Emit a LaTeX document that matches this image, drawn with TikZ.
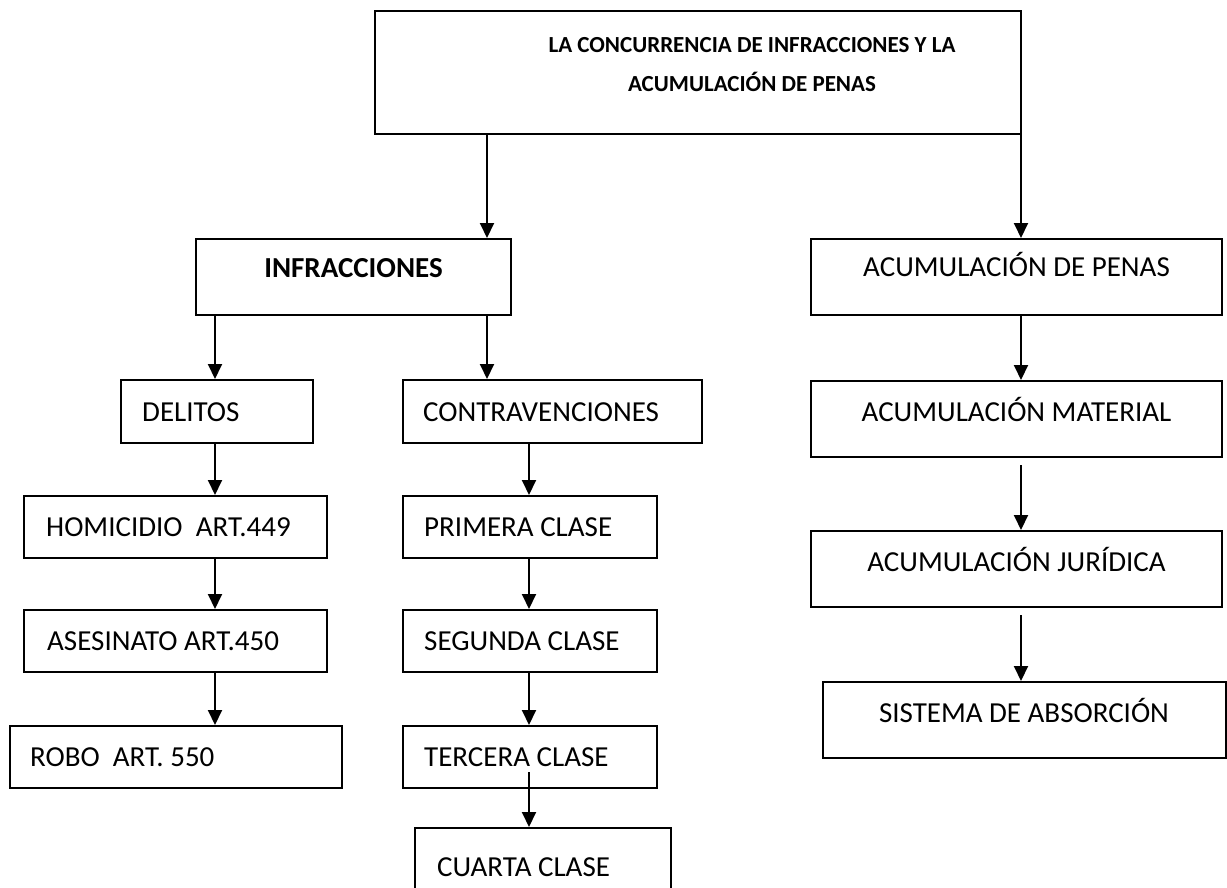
\documentclass[tikz,border=0pt]{standalone}
\usepackage{fontspec}
\setmainfont{Carlito}
\usetikzlibrary{arrows.meta}
\begin{document}
\begin{tikzpicture}[x=1pt,y=-1pt,
  box/.style={draw=black, line width=2pt, inner sep=0pt, rectangle},
  arr/.style={draw=black, line width=2pt, -{Triangle[width=14pt,length=15pt]}},
  txt/.style={inner sep=0pt, font=\fontsize{29}{34}\selectfont},
  btxt/.style={inner sep=0pt, font=\fontsize{29}{34}\selectfont\bfseries},
  ttxt/.style={inner sep=0pt, font=\fontsize{23}{28}\selectfont\bfseries}]
\useasboundingbox (0,0) rectangle (1227,888);
\clip (0,0) rectangle (1227,888);
\fill[white] (0,0) rectangle (1227,888);

% boxes
\node[box, minimum width=646pt, minimum height=123pt] (top) at (698,72.5) {};
\node[box, minimum width=315pt, minimum height=76pt] (infr) at (353.5,277) {};
\node[box, minimum width=411pt, minimum height=76pt] (acp) at (1016.5,277) {};
\node[box, minimum width=192pt, minimum height=63pt] (del) at (217,411.5) {};
\node[box, minimum width=299pt, minimum height=63pt] (con) at (552.5,411.5) {};
\node[box, minimum width=411pt, minimum height=76pt] (mat) at (1016.5,419) {};
\node[box, minimum width=303pt, minimum height=62pt] (hom) at (175.5,527) {};
\node[box, minimum width=254pt, minimum height=62pt] (pri) at (530,527) {};
\node[box, minimum width=303pt, minimum height=62pt] (ase) at (175.5,641) {};
\node[box, minimum width=254pt, minimum height=62pt] (seg) at (530,641) {};
\node[box, minimum width=332pt, minimum height=62pt] (rob) at (176,757) {};
\node[box, minimum width=254pt, minimum height=62pt] (ter) at (530,757) {};
\node[box, minimum width=256pt, minimum height=62pt] (cua) at (543,859) {};
\node[box, minimum width=411pt, minimum height=76pt] (jur) at (1016.5,569) {};
\node[box, minimum width=403pt, minimum height=76pt] (sis) at (1024,720) {};

% texts
\node[ttxt, anchor=base] (t1) at (752,52.5) {LA CONCURRENCIA DE INFRACCIONES Y LA};
\node[ttxt, anchor=base] (t2) at (752,92) {ACUMULACIÓN DE PENAS};
\node[btxt, anchor=base] (tinfr) at (353.5,277) {INFRACCIONES};
\node[txt, anchor=base] (tacp) at (1016.5,276) {ACUMULACIÓN DE PENAS};
\node[txt, anchor=base west] (tdel) at (142,421) {DELITOS};
\node[txt, anchor=base west] (tcon) at (423,421) {CONTRAVENCIONES};
\node[txt, anchor=base] (tmat) at (1016.5,421) {ACUMULACIÓN MATERIAL};
\node[txt, anchor=base west] (thom) at (46,536) {HOMICIDIO\ \ ART.449};
\node[txt, anchor=base west] (tpri) at (424,536) {PRIMERA CLASE};
\node[txt, anchor=base west] (tase) at (47,650) {ASESINATO ART.450};
\node[txt, anchor=base west] (tseg) at (424,650) {SEGUNDA CLASE};
\node[txt, anchor=base] (tjur) at (1016.5,571) {ACUMULACIÓN JURÍDICA};
\node[txt, anchor=base west] (trob) at (30,766) {ROBO\ \ ART. 550};
\node[txt, anchor=base west] (tter) at (424,766) {TERCERA CLASE};
\node[txt, anchor=base west] (tcua) at (437,876) {CUARTA CLASE};
\node[txt, anchor=base] (tsis) at (1024,722) {SISTEMA DE ABSORCIÓN};

% arrow columns
\coordinate (cA) at (215,0);
\coordinate (cB) at (487,0);
\coordinate (cC) at (529,0);
\coordinate (cD) at (1021,0);
\coordinate (sJ) at (1021,465);
\coordinate (sS) at (1021,615);
\coordinate (sC) at (529,772);

% connectors
\draw[arr] (top.south -| cB) -- (infr.north -| cB);
\draw[arr] (top.south -| cD) -- (acp.north -| cD);
\draw[arr] (infr.south -| cA) -- (del.north -| cA);
\draw[arr] (infr.south -| cB) -- (con.north -| cB);
\draw[arr] (acp.south -| cD) -- (mat.north -| cD);
\draw[arr] (del.south -| cA) -- (hom.north -| cA);
\draw[arr] (hom.south -| cA) -- (ase.north -| cA);
\draw[arr] (ase.south -| cA) -- (rob.north -| cA);
\draw[arr] (con.south -| cC) -- (pri.north -| cC);
\draw[arr] (pri.south -| cC) -- (seg.north -| cC);
\draw[arr] (seg.south -| cC) -- (ter.north -| cC);
\draw[arr] (sC) -- (cua.north -| cC);
\draw[arr] (sJ) -- (jur.north -| cD);
\draw[arr] (sS) -- (sis.north -| cD);
\end{tikzpicture}
\end{document}
